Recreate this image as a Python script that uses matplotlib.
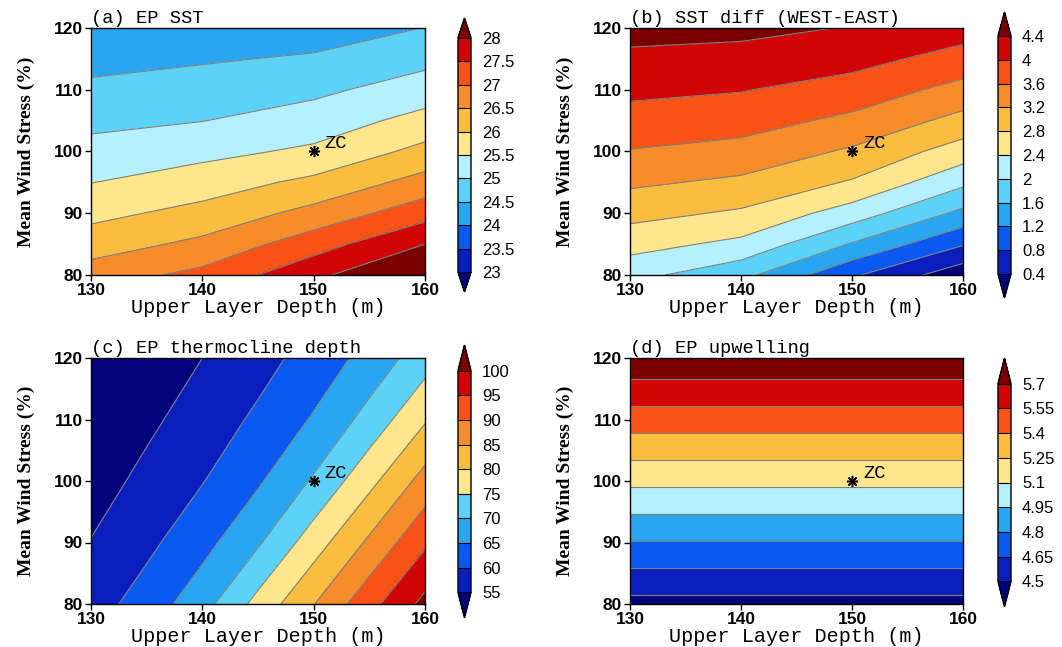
import numpy as np
import matplotlib
matplotlib.use("Agg")
import matplotlib.pyplot as plt

# ---- grids ----
depth_ab = [130, 140, 150, 160]
depth_c = [130, 135, 140, 145, 150, 155, 160]
stress_ab = [80, 85, 90, 95, 100, 105, 110, 115, 120]
stress_c = [80, 90, 100, 110, 120]
depth_d = [130, 160]
stress_d = [80, 85, 90, 95, 100, 105, 110, 115, 120]

# (a) EP SST, rows = stress, cols = depth
ep_sst = [
    [26.74, 27.14, 27.86, 28.71],
    [26.26, 26.62, 27.28, 28.00],
    [25.86, 26.16, 26.66, 27.30],
    [25.49, 25.75, 26.12, 26.69],
    [25.17, 25.36, 25.59, 26.15],
    [24.87, 24.99, 25.23, 25.67],
    [24.60, 24.72, 24.89, 25.24],
    [24.35, 24.45, 24.56, 24.86],
    [24.10, 24.20, 24.25, 24.51],
]

# (b) SST diff (WEST-EAST)
sst_diff = [
    [2.13, 1.72, 0.86, 0.14],
    [2.55, 2.30, 1.57, 0.83],
    [2.93, 2.74, 2.21, 1.50],
    [3.27, 3.12, 2.76, 2.09],
    [3.58, 3.47, 3.14, 2.61],
    [3.85, 3.76, 3.51, 3.07],
    [4.09, 4.02, 3.83, 3.47],
    [4.32, 4.27, 4.14, 3.84],
    [4.53, 4.50, 4.38, 4.18],
]

# (c) EP thermocline depth
thermo_depth = [
    [57.83, 62.16, 68.09, 76.61, 84.84, 93.33, 101.45],
    [55.18, 58.86, 63.29, 69.38, 77.62, 85.90, 94.18],
    [52.82, 56.28, 59.79, 64.35, 70.61, 78.58, 86.90],
    [50.72, 53.97, 57.29, 60.86, 65.48, 71.78, 79.49],
    [48.80, 51.91, 55.00, 58.21, 61.93, 66.70, 72.79],
]

# (d) EP upwelling (no dependence on depth)
upwelling = [4.452, 4.623, 4.793, 4.964, 5.134, 5.305, 5.475, 5.646, 5.816]

levels_a = [23, 23.5, 24, 24.5, 25, 25.5, 26, 26.5, 27, 27.5, 28]
levels_b = [0.4, 0.8, 1.2, 1.6, 2, 2.4, 2.8, 3.2, 3.6, 4, 4.4]
levels_c = [55, 60, 65, 70, 75, 80, 85, 90, 95, 100]
levels_d = [4.5, 4.65, 4.8, 4.95, 5.1, 5.25, 5.4, 5.55, 5.7]

titles = ["(a) EP SST", "(b) SST diff (WEST-EAST)",
          "(c) EP thermocline depth", "(d) EP upwelling"]

# colour table (NCL-like)
navy, dblue, blue, mblue = "#03037c", "#0a1ebe", "#0a5af2", "#28a6f2"
lblue, pcyan, lyellow, yorange = "#5cd2f8", "#b4f0fe", "#fde68c", "#f9be40"
orange, rorange, red, dred = "#f68c2a", "#fb5216", "#d00404", "#7a0000"

cols_12 = [navy, dblue, blue, mblue, lblue, pcyan, lyellow, yorange, orange, rorange, red, dred]
cols_c = [navy, dblue, blue, mblue, lblue, lyellow, yorange, orange, rorange, red, dred]
cols_d = [navy, dblue, blue, mblue, pcyan, lyellow, yorange, rorange, red, dred]

W, H = 1062, 647
fig = plt.figure(figsize=(W / 100, H / 100), dpi=100)


def px_rect(left, top, right, bottom):
    return [left / W, 1 - bottom / H, (right - left) / W, (bottom - top) / H]


mono = "Liberation Mono"
panels = [
    (depth_ab, stress_ab, np.array(ep_sst), levels_a, cols_12,
     (91, 28, 425, 275), (458, 18, 471, 292), 0.083),
    (depth_ab, stress_ab, np.array(sst_diff), levels_b, cols_12,
     (630, 28, 963, 275), (998, 12, 1011, 298), 0.10),
    (depth_c, stress_c, np.array(thermo_depth), levels_c, cols_c,
     (91, 358, 425, 604), (458, 345, 471, 618), 0.115),
    (depth_d, stress_d, np.tile(np.array(upwelling)[:, None], (1, 2)), levels_d, cols_d,
     (630, 358, 963, 604), (998, 358, 1011, 607), 0.129),
]

for i, (xs, ys, z, lev, cols, rect, crect, efrac) in enumerate(panels):
    ax = fig.add_axes(px_rect(*rect))
    cf = ax.contourf(xs, ys, z, levels=lev, colors=cols, extend="both")
    ax.contour(xs, ys, z, levels=lev, colors="#808080", linewidths=0.8)

    # ZC reference point
    ax.plot(150, 100, marker=(8, 2, 0), ms=8, mew=1.1, color="black")
    ax.text(151, 101.3, "ZC", family=mono, fontsize=13.5, ha="left", va="center")

    ax.set_xlim(130, 160)
    ax.set_ylim(80, 120)
    ax.set_xticks([130, 140, 150, 160])
    ax.set_yticks([80, 90, 100, 110, 120])
    ax.tick_params(direction="out", length=4, width=1, labelsize=12.5, pad=2)
    for lab in ax.get_xticklabels() + ax.get_yticklabels():
        lab.set_fontweight("bold")
        lab.set_family("Liberation Sans")
    for sp in ax.spines.values():
        sp.set_linewidth(1)

    ax.set_xlabel("Upper Layer Depth (m)", family=mono, fontsize=14.5, labelpad=0)
    ax.set_ylabel("Mean Wind Stress (%)", family="Liberation Serif",
                  fontsize=14, fontweight="bold", labelpad=13)
    ax.text(0.0, 1.005, titles[i], transform=ax.transAxes, family=mono,
            fontsize=13.5, ha="left", va="bottom")

    # label bar
    cax = fig.add_axes(px_rect(*crect))
    cb = fig.colorbar(cf, cax=cax, ticks=lev, extendfrac=efrac, drawedges=True)
    cb.outline.set_linewidth(1)
    cb.dividers.set_color("black")
    cb.dividers.set_linewidth(0.8)
    cb.ax.set_yticklabels(["%g" % v for v in lev])
    cb.ax.tick_params(length=0, pad=8, labelsize=12)
    for lab in cb.ax.get_yticklabels():
        lab.set_family("Liberation Sans")

fig.savefig("out.png", dpi=100)
